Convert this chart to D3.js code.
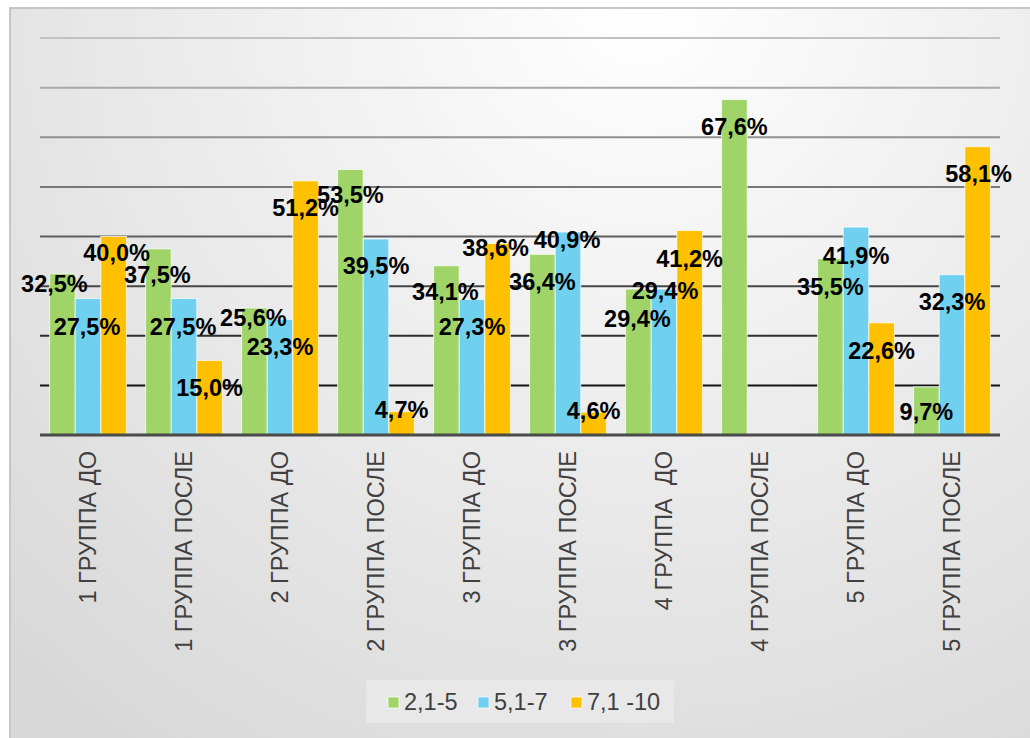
<!DOCTYPE html>
<html>
<head>
<meta charset="utf-8">
<script src="https://cdn.jsdelivr.net/npm/d3@7"></script>
<style>
  html, body { margin: 0; padding: 0; background: #fff; }
  svg { display: block; font-family: "Liberation Sans", Arial, sans-serif; }
</style>
</head>
<body>
<svg id="chart" width="1030" height="738"></svg>
<script>
// data
var categories = ["1 ГРУППА ДО", "1 ГРУППА ПОСЛЕ", "2 ГРУППА ДО", "2 ГРУППА ПОСЛЕ",
  "3 ГРУППА ДО", "3 ГРУППА ПОСЛЕ", "4 ГРУППА  ДО", "4 ГРУППА ПОСЛЕ",
  "5 ГРУППА ДО", "5 ГРУППА ПОСЛЕ"];
var seriesNames = ["2,1-5", "5,1-7", "7,1 -10"];
var low  = [32.5, 37.5, 25.6, 53.5, 34.1, 36.4, 29.4, 67.6, 35.5, 9.7];
var mid  = [27.5, 27.5, 23.3, 39.5, 27.3, 40.9, 29.4, null, 41.9, 32.3];
var high = [40.0, 15.0, 51.2, 4.7, 38.6, 4.6, 41.2, null, 22.6, 58.1];
var yTicks = [0, 10, 20, 30, 40, 50, 60, 70, 80];

var colors = ["#A0D468", "#70D0F0", "#FFC000"];

// label nudges [dx, dy] per category, per series (labels were moved by hand in the original)
var labelNudge = [
  [[-8, -17], [-1, 1], [3, -11]],
  [[-1, -1], [-1, 1], [0, 0]],
  [[-1, -17], [0, 0], [0, 0]],
  [[0, -2], [0, 0], [0, -29]],
  [[-1, -1], [0, 0], [-2, -23]],
  [[0, 0], [-1, -19], [0, -29]],
  [[-1, 2], [1, -26], [0, 1]],
  [[0, 0], [0, 0], [0, 0]],
  [[0, 1], [0, 1], [0, 1]],
  [[0, -2], [0, 0], [1, 0]]
];

var svg = d3.select("#chart");
var defs = svg.append("defs");

var grad = defs.append("radialGradient")
    .attr("id", "bg")
    .attr("gradientUnits", "userSpaceOnUse")
    .attr("cx", 640).attr("cy", 0).attr("r", 900);
grad.append("stop").attr("offset", "0%").attr("stop-color", "#ffffff");
grad.append("stop").attr("offset", "100%").attr("stop-color", "#d8d8d8");

svg.append("rect")
    .attr("x", 10).attr("y", 8)
    .attr("width", 1040).attr("height", 760)
    .attr("fill", "url(#bg)")
    .attr("stroke", "#c6c6c6")
    .attr("stroke-width", 2);

var plotLeft = 40, plotRight = 1000, plotTop = 38, plotBottom = 435;

var x0 = d3.scaleBand()
    .domain(categories)
    .range([plotLeft, plotRight])
    .paddingInner(0.2)
    .paddingOuter(0.1);

var x1 = d3.scaleBand()
    .domain(seriesNames)
    .range([0, x0.bandwidth()]);

var y = d3.scaleLinear()
    .domain([0, 80])
    .range([plotBottom, plotTop]);

// gridlines, darker towards the bottom
var gridColor = d3.scaleLinear()
    .domain([80, 10])
    .range(["#c2c2c2", "#151515"]);

svg.append("g")
    .selectAll("line")
    .data(yTicks.filter(function(d) { return d > 0; }))
    .enter().append("line")
      .attr("x1", plotLeft)
      .attr("x2", plotRight)
      .attr("y1", function(d) { return y(d); })
      .attr("y2", function(d) { return y(d); })
      .attr("stroke", function(d) { return gridColor(d); })
      .attr("stroke-width", 2);

// bars
var table = [];
categories.forEach(function(c, i) {
  [low, mid, high].forEach(function(arr, j) {
    if (arr[i] != null) {
      table.push({cat: c, ci: i, s: seriesNames[j], si: j, v: arr[i]});
    }
  });
});

svg.append("g")
    .selectAll("rect")
    .data(table)
    .enter().append("rect")
      .attr("x", function(d) { return x0(d.cat) + x1(d.s); })
      .attr("y", function(d) { return y(d.v); })
      .attr("width", x1.bandwidth())
      .attr("height", function(d) { return y(0) - y(d.v); })
      .attr("fill", function(d) { return colors[d.si]; })
      .attr("stroke", "rgba(255,255,255,0.7)")
      .attr("stroke-width", 1);

// baseline
svg.append("line")
    .attr("x1", plotLeft).attr("x2", plotRight)
    .attr("y1", y(0)).attr("y2", y(0))
    .attr("stroke", "#4a4a4a")
    .attr("stroke-width", 3);

// value labels
svg.append("g")
    .selectAll("text")
    .data(table)
    .enter().append("text")
      .attr("x", function(d) {
        return x0(d.cat) + x1(d.s) + x1.bandwidth() / 2 + labelNudge[d.ci][d.si][0];
      })
      .attr("y", function(d) { return y(d.v) + 27 + labelNudge[d.ci][d.si][1]; })
      .attr("dy", "0.36em")
      .attr("text-anchor", "middle")
      .style("font-size", "23.5px")
      .style("font-weight", "bold")
      .attr("fill", "#000")
      .text(function(d) { return d.v.toFixed(1).replace(".", ",") + "%"; });

// category labels
svg.append("g")
    .selectAll("text")
    .data(categories)
    .enter().append("text")
      .attr("transform", function(d) {
        return "translate(" + (x0(d) + x0.bandwidth() / 2) + "," + 451 + ") rotate(-90)";
      })
      .attr("dy", "0.36em")
      .attr("text-anchor", "end")
      .style("font-size", "23.5px")
      .style("white-space", "pre")
      .attr("fill", "#404040")
      .text(function(d) { return d; });

// legend
var legend = svg.append("g");
legend.append("rect")
    .attr("x", 366).attr("y", 680)
    .attr("width", 308).attr("height", 43)
    .attr("fill", "#e8e8e8");

var legendX = [388, 478, 571];
seriesNames.forEach(function(name, i) {
  legend.append("rect")
      .attr("x", legendX[i]).attr("y", 697)
      .attr("width", 11).attr("height", 11)
      .attr("fill", colors[i])
      .attr("stroke", "rgba(255,255,255,0.7)");
  legend.append("text")
      .attr("x", legendX[i] + 16)
      .attr("y", 710)
      .style("font-size", "23.5px")
      .attr("fill", "#404040")
      .text(name);
});
</script>
</body>
</html>
